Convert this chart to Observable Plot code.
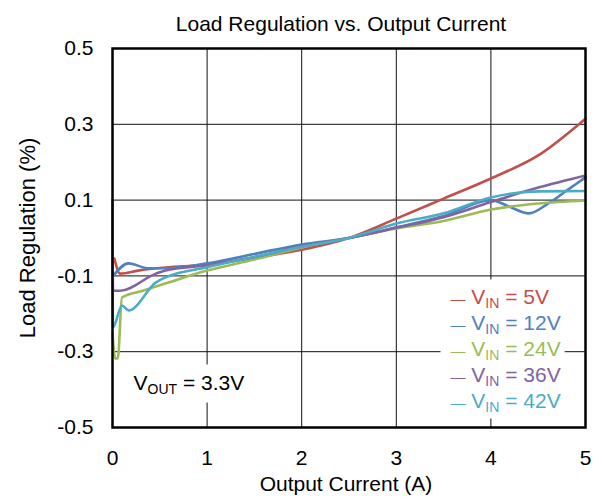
<!DOCTYPE html>
<html><head><meta charset="utf-8">
<script src="https://cdn.jsdelivr.net/npm/d3@7"></script>
<script src="https://cdn.jsdelivr.net/npm/@observablehq/plot@0.6"></script>
<style>
body{margin:0;background:#fff;}
</style></head><body><div id="chart"></div>
<script>
// ---- data ----
const seriesNames = ["5V", "12V", "24V", "36V", "42V"];
const seriesColors = ["#C0504D", "#4F81BD", "#9BBB59", "#8064A2", "#4BACC6"];

const current5V = [0.02, 0.08, 0.27, 0.56, 1.0, 1.5, 2.0, 2.5, 3.0, 3.5, 4.0, 4.5, 5.0];
const reg5V     = [-0.054, -0.094, -0.086, -0.078, -0.071, -0.052, -0.031, 0.0, 0.051, 0.104, 0.157, 0.218, 0.315];

const current12V = [0.0, 0.17, 0.38, 0.56, 1.0, 1.5, 2.0, 2.5, 3.0, 3.5, 4.0, 4.21, 4.4, 4.6, 4.8, 5.0];
const reg12V     = [-0.102, -0.067, -0.08, -0.08, -0.067, -0.042, -0.017, 0.0, 0.028, 0.058, 0.1, 0.081, 0.065, 0.09, 0.125, 0.16];

const current24V = [0.0, 0.028, 0.056, 0.1, 0.32, 0.56, 1.0, 1.5, 2.0, 2.5, 3.0, 3.5, 4.0, 4.5, 5.0];
const reg24V     = [-0.25, -0.318, -0.318, -0.157, -0.139, -0.12, -0.086, -0.057, -0.025, 0.0, 0.025, 0.045, 0.075, 0.091, 0.099];

const current36V = [0.0, 0.005, 0.08, 0.46, 0.56, 1.0, 1.5, 2.0, 2.5, 3.0, 3.5, 4.0, 4.5, 5.0];
const reg36V     = [0.1, -0.139, -0.139, -0.094, -0.086, -0.072, -0.05, -0.022, 0.0, 0.027, 0.055, 0.095, 0.133, 0.165];

const current42V = [0.0, 0.005, 0.1, 0.17, 0.46, 0.56, 1.0, 1.5, 2.0, 2.5, 3.0, 3.5, 4.0, 4.5, 5.0];
const reg42V     = [0.1, -0.236, -0.178, -0.191, -0.117, -0.104, -0.077, -0.05, -0.023, 0.0, 0.038, 0.065, 0.107, 0.123, 0.124];

const xTicks = [0, 1, 2, 3, 4, 5];
const xTickLabels = ["0", "1", "2", "3", "4", "5"];
const yTicks = [-0.5, -0.3, -0.1, 0.1, 0.3, 0.5];
const yTickLabels = ["-0.5", "-0.3", "-0.1", "0.1", "0.3", "0.5"];

const titleText = "Load Regulation vs. Output Current";
const xLabelText = "Output Current (A)";
const yLabelText = "Load Regulation (%)";
const voutText = "VOUT = 3.3V";
const legendLabels = seriesNames.map(n => `VIN = ${n}`);

// ---- build table ----
const currents = [current5V, current12V, current24V, current36V, current42V];
const regs = [reg5V, reg12V, reg24V, reg36V, reg42V];
const rows = [];
seriesNames.forEach((name, k) => {
  currents[k].forEach((x, i) => rows.push({series: name, x, y: regs[k][i]}));
});

const FONT = "'Liberation Sans', Arial, Helvetica, sans-serif";
const W = 602, H = 499;
const mL = 112, mR = 17, mT = 48, mB = 72;

const legendMarks = legendLabels.map((lab, i) =>
  Plot.text([lab], {
    text: d => d, frameAnchor: "bottom-right", textAnchor: "start",
    dx: -135, dy: -(124 - i * 26), fill: seriesColors[i], fontSize: 21
  })
);

const chart = Plot.plot({
  width: W, height: H,
  marginLeft: mL, marginRight: mR, marginTop: mT, marginBottom: mB,
  style: {fontFamily: FONT, fontSize: "21px", background: "#fff", color: "#000"},
  x: {domain: [0, 5]},
  y: {domain: [-0.5, 0.5]},
  color: {domain: seriesNames, range: seriesColors},
  marks: [
    Plot.gridX(xTicks, {stroke: "#111", strokeOpacity: 1, strokeWidth: 1}),
    Plot.gridY(yTicks, {stroke: "#111", strokeOpacity: 1, strokeWidth: 1}),
    Plot.axisX(xTicks, {tickSize: 0, tickPadding: 23, fontSize: 21, label: null,
      tickFormat: (d, i) => xTickLabels[i]}),
    Plot.axisY(yTicks, {tickSize: 0, tickPadding: 19, fontSize: 21, label: null,
      tickFormat: (d, i) => yTickLabels[i]}),
    Plot.line(rows, {x: "x", y: "y", z: "series", stroke: "series",
      strokeWidth: 2.6, curve: "monotone-x"}),
    ...legendMarks,
    Plot.text([voutText], {text: d => d, frameAnchor: "bottom-left", textAnchor: "start",
      dx: 21, dy: -38, fontSize: 21, fill: "#000"}),
    Plot.text([titleText], {text: d => d, frameAnchor: "top", dx: -8, dy: -32, fontSize: 21, fill: "#000"}),
    Plot.text([xLabelText], {text: d => d, frameAnchor: "bottom", dx: -3, dy: 63, fontSize: 21, fill: "#000"}),
    Plot.text([yLabelText], {text: d => d, frameAnchor: "left", textAnchor: "middle", dx: -85, rotate: -90, fontSize: 22, fill: "#000"}),
    Plot.frame({stroke: "#000", strokeWidth: 2.5})
  ]
});

document.getElementById("chart").appendChild(chart);

// ---- subscripts & background boxes ----
const NS = "http://www.w3.org/2000/svg";
function subscriptify(textEl, withDash) {
  const s = textEl.textContent;
  const m = s.match(/^V(IN|OUT)(.*)$/);
  if (!m) return false;
  textEl.textContent = "";
  textEl.style.whiteSpace = "pre";
  if (withDash) {
    const t0 = document.createElementNS(NS, "tspan");
    t0.setAttribute("font-size", "15");
    t0.textContent = "\u2014";
    textEl.appendChild(t0);
    const tg = document.createElementNS(NS, "tspan");
    tg.setAttribute("font-size", "21");
    tg.textContent = " ";
    textEl.appendChild(tg);
  }
  const t1 = document.createElementNS(NS, "tspan");
  t1.textContent = "V";
  textEl.appendChild(t1);
  const t2 = document.createElementNS(NS, "tspan");
  t2.setAttribute("font-size", "14");
  t2.setAttribute("dy", "4");
  t2.textContent = m[1];
  textEl.appendChild(t2);
  const t3 = document.createElementNS(NS, "tspan");
  t3.setAttribute("dy", "-4");
  t3.textContent = m[2];
  textEl.appendChild(t3);
  return true;
}

const legendTexts = [], voutTexts = [];
chart.querySelectorAll("text").forEach(t => {
  const s = t.textContent;
  if (/^VIN/.test(s)) { subscriptify(t, true); legendTexts.push(t); }
  else if (/^VOUT/.test(s)) { subscriptify(t, false); voutTexts.push(t); }
});

function boxBehind(texts, pad) {
  if (!texts.length) return;
  let x0 = Infinity, y0 = Infinity, x1 = -Infinity, y1 = -Infinity;
  texts.forEach(t => {
    const b = t.getBBox();
    const m = t.getCTM(), sm = chart.getCTM();
    const inv = sm ? sm.inverse().multiply(m) : m;
    const p0 = new DOMPoint(b.x, b.y).matrixTransform(inv);
    const p1 = new DOMPoint(b.x + b.width, b.y + b.height).matrixTransform(inv);
    x0 = Math.min(x0, p0.x, p1.x); y0 = Math.min(y0, p0.y, p1.y);
    x1 = Math.max(x1, p0.x, p1.x); y1 = Math.max(y1, p0.y, p1.y);
  });
  const r = document.createElementNS(NS, "rect");
  r.setAttribute("x", x0 - pad[3]); r.setAttribute("y", y0 - pad[0]);
  r.setAttribute("width", x1 - x0 + pad[1] + pad[3]);
  r.setAttribute("height", y1 - y0 + pad[0] + pad[2]);
  r.setAttribute("fill", "#fff");
  let g = texts[0];
  while (g.parentNode !== chart) g = g.parentNode;
  chart.insertBefore(r, g);
}
boxBehind(legendTexts, [5, 4, 4, 10]);
boxBehind(voutTexts, [6, 6, 6, 6]);
</script></body></html>
